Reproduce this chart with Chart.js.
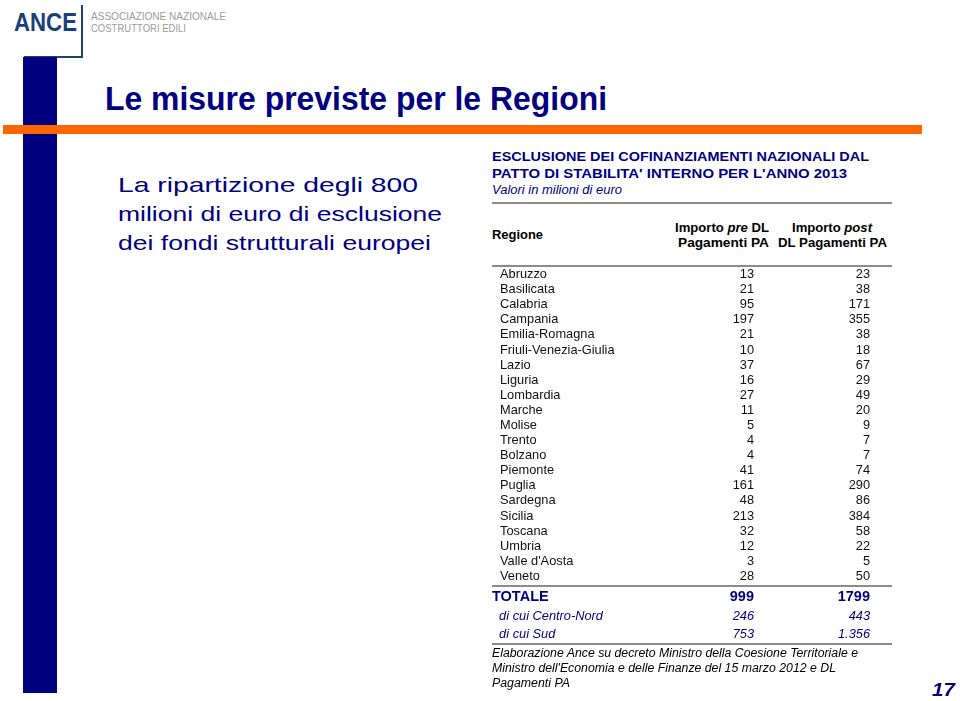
<!DOCTYPE html>
<html>
<head>
<meta charset="utf-8">
<script src="https://cdn.jsdelivr.net/npm/chart.js@4.4.1/dist/chart.umd.min.js"></script>
<style>
  body { margin: 0; width: 960px; height: 701px; background: #fff; position: relative; overflow: hidden;
         font-family: "Liberation Sans", Arial, sans-serif; }
  .abs { position: absolute; white-space: nowrap; transform-origin: left center; }
  .navy { color: #000080; }
  .rule { position: absolute; left: 492px; width: 400px; height: 2px; background: #8c8c8c; }
</style>
</head>
<body>
<!-- logo -->
<div class="abs" id="logo" style="left:14px;top:6px;font:bold 26px/32px 'Liberation Sans';color:#1c3f78">ANCE</div>
<div style="position:absolute;left:81px;top:5px;width:2px;height:53px;background:#1c3f78"></div>
<div style="position:absolute;left:24px;top:56px;width:59px;height:2px;background:#1c3f78"></div>
<div class="abs" id="assoc1" style="left:91px;top:10px;font:11px/13px 'Liberation Sans';color:#9b9b9b">ASSOCIAZIONE NAZIONALE</div>
<div class="abs" id="assoc2" style="left:91px;top:22px;font:11px/13px 'Liberation Sans';color:#9b9b9b">COSTRUTTORI EDILI</div>

<!-- side bar and headline -->
<div style="position:absolute;left:23px;top:57px;width:34px;height:636px;background:#000080"></div>
<div class="abs navy" id="title" style="left:105px;top:80px;font:bold 33px/38px 'Liberation Sans'">Le misure previste per le Regioni</div>
<div style="position:absolute;left:3px;top:125px;width:919px;height:9px;background:#ff6600"></div>

<div class="abs navy" id="side1" style="left:118px;top:171px;font:21px/28px 'Liberation Sans'">La ripartizione degli 800</div>
<div class="abs navy" id="side2" style="left:118px;top:200px;font:21px/28px 'Liberation Sans'">milioni di euro di esclusione</div>
<div class="abs navy" id="side3" style="left:118px;top:229px;font:21px/28px 'Liberation Sans'">dei fondi strutturali europei</div>

<!-- table heading -->
<div class="abs navy" id="tt1" style="left:492px;top:149px;font:bold 13px/16px 'Liberation Sans'">ESCLUSIONE DEI COFINANZIAMENTI NAZIONALI DAL</div>
<div class="abs navy" id="tt2" style="left:492px;top:166px;font:bold 13px/16px 'Liberation Sans'">PATTO DI STABILITA' INTERNO PER L'ANNO 2013</div>
<div class="abs navy" id="tt3" style="left:492px;top:182px;font:italic 12px/16px 'Liberation Sans'">Valori in milioni di euro</div>
<div class="rule" style="top:202px"></div>

<div class="abs" id="h0" style="left:492px;top:227px;font:bold 12.5px/16px 'Liberation Sans'">Regione</div>
<div class="abs" id="h1" style="left:675px;top:220px;font:bold 12.5px/16px 'Liberation Sans'">Importo <i>pre</i> DL</div>
<div class="abs" id="h2" style="left:678px;top:235px;font:bold 12.5px/16px 'Liberation Sans'">Pagamenti PA</div>
<div class="abs" id="h3" style="left:792px;top:220px;font:bold 12.5px/16px 'Liberation Sans'">Importo <i>post</i></div>
<div class="abs" id="h4" style="left:778px;top:235px;font:bold 12.5px/16px 'Liberation Sans'">DL Pagamenti PA</div>
<div class="rule" style="top:265px"></div>

<div style="position:absolute;left:500px;top:267px;width:370px;height:317px"><canvas id="body"></canvas></div>
<div class="rule" style="top:585px"></div>
<div style="position:absolute;left:492px;top:588px;width:378px;height:56px"><canvas id="totals"></canvas></div>
<div class="rule" style="top:643px"></div>

<div class="abs" id="f1" style="left:492px;top:645px;font:italic 12.5px/16px 'Liberation Sans'">Elaborazione Ance su decreto Ministro della Coesione Territoriale e</div>
<div class="abs" id="f2" style="left:492px;top:660px;font:italic 12.5px/16px 'Liberation Sans'">Ministro dell'Economia e delle Finanze del 15 marzo 2012 e DL</div>
<div class="abs" id="f3" style="left:492px;top:675px;font:italic 12.5px/16px 'Liberation Sans'">Pagamenti PA</div>

<div class="abs navy" id="page" style="left:932px;top:680px;font:italic bold 18px/20px 'Liberation Sans'">17</div>

<script>
const regions = ['Abruzzo', 'Basilicata', 'Calabria', 'Campania', 'Emilia-Romagna', 'Friuli-Venezia-Giulia',
  'Lazio', 'Liguria', 'Lombardia', 'Marche', 'Molise', 'Trento', 'Bolzano', 'Piemonte', 'Puglia',
  'Sardegna', 'Sicilia', 'Toscana', 'Umbria', "Valle d'Aosta", 'Veneto'];
const preDL = [13, 21, 95, 197, 21, 10, 37, 16, 27, 11, 5, 4, 4, 41, 161, 48, 213, 32, 12, 3, 28];
const postDL = [23, 38, 171, 355, 38, 18, 67, 29, 49, 20, 9, 7, 7, 74, 290, 86, 384, 58, 22, 5, 50];
const columns = ['Importo pre DL Pagamenti PA', 'Importo post DL Pagamenti PA'];
const totalRows = ['TOTALE', 'di cui Centro-Nord', 'di cui Sud'];
const totalPre = [999, 246, 753];
const totalPost = [1799, 443, 1356];

// stretch the html text lines to the widths they have on the slide
const widths = { logo: 63, assoc1: 135, assoc2: 95, title: 502, side1: 300, side2: 324, side3: 313,
  tt1: 377, tt2: 355, tt3: 130, h0: 51, h1: 94, h2: 91, h3: 80, h4: 109,
  f1: 366, f2: 344, f3: 78, page: 23 };
for (const id in widths) {
  const el = document.getElementById(id);
  el.style.transform = 'scaleX(' + (widths[id] / el.getBoundingClientRect().width) + ')';
}

const FONT = '"Liberation Sans", Arial, sans-serif';
const dots = s => String(s).replace(/\B(?=(\d{3})+(?!\d))/g, '.');

// writes each value right-aligned at the right edge of its column band
const cellText = {
  id: 'cellText',
  afterDatasetsDraw(chart, args, opts) {
    const ctx = chart.ctx;
    const xs = chart.scales.x;
    const half = (xs.getPixelForValue(1) - xs.getPixelForValue(0)) / 2;
    ctx.save();
    ctx.textAlign = 'right';
    ctx.textBaseline = 'middle';
    chart.data.datasets.forEach((ds, di) => {
      chart.getDatasetMeta(di).data.forEach((pt, i) => {
        const f = opts.font(i);
        ctx.font = (f.style || 'normal') + ' ' + (f.weight || 'normal') + ' ' + f.size + 'px ' + FONT;
        ctx.fillStyle = opts.color;
        ctx.fillText(opts.format(ds.data[i].v, i), pt.x + half, pt.y);
      });
    });
    ctx.restore();
  }
};

function points(rows, values, col) {
  return rows.map((r, i) => ({ x: col, y: r, v: values[i] }));
}

function tableChart(id, rows, pre, post, axisWidth, font, color, format, label) {
  return new Chart(document.getElementById(id), {
    type: 'line',
    data: {
      datasets: [
        { data: points(rows, pre, columns[0]), showLine: false, pointRadius: 0, pointHoverRadius: 0 },
        { data: points(rows, post, columns[1]), showLine: false, pointRadius: 0, pointHoverRadius: 0 }
      ]
    },
    options: {
      responsive: true,
      maintainAspectRatio: false,
      animation: false,
      events: [],
      layout: { padding: 0, autoPadding: false },
      plugins: {
        legend: { display: false },
        tooltip: { enabled: false },
        cellText: { font: font, color: color, format: format }
      },
      scales: {
        x: { type: 'category', labels: columns, offset: true, display: false },
        y: {
          type: 'category', labels: rows, offset: true,
          grid: { display: false }, border: { display: false },
          afterFit: s => { s.width = axisWidth; s.paddingTop = 0; s.paddingBottom = 0; },
          ticks: {
            autoSkip: false, crossAlign: 'far', padding: 0, color: color,
            // zero line height keeps the axis from padding the first and last rows
            font: c => Object.assign({ family: FONT, lineHeight: '0px' }, font(c.index)),
            callback: function (v, i) { return label(this.getLabelForValue(v), i); }
          }
        }
      }
    },
    plugins: [cellText]
  });
}

tableChart('body', regions, preDL, postDL, 138,
  () => ({ size: 12.8 }), '#111', v => String(v), t => t);

tableChart('totals', totalRows, totalPre, totalPost, 146,
  i => i === 0 ? { size: 14.5, weight: 'bold' } : { size: 12.8, style: 'italic' },
  '#000080', (v, i) => i === 0 ? String(v) : dots(v), (t, i) => i === 0 ? t : '  ' + t);
</script>
</body>
</html>
